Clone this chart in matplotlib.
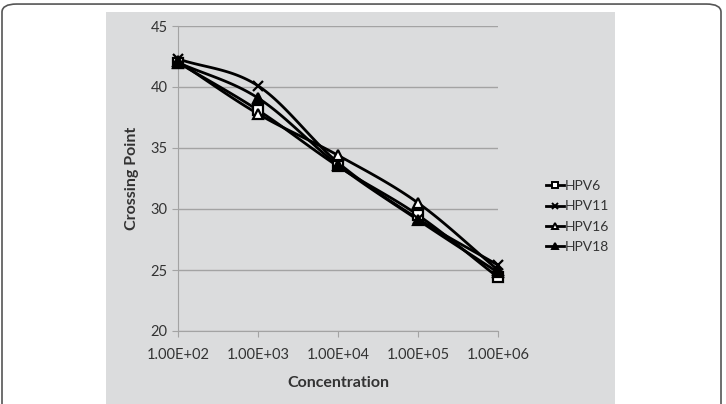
import matplotlib.pyplot as plt
import numpy as np
from matplotlib.patches import FancyBboxPatch, Rectangle

plt.rcParams['font.family'] = ['Lato', 'DejaVu Sans']

labels = ["1.00E+02", "1.00E+03", "1.00E+04", "1.00E+05", "1.00E+06"]
hpv6 = [42.0, 38.1, 33.5, 29.5, 24.4]
hpv11 = [42.3, 40.1, 33.8, 29.2, 25.4]
hpv16 = [42.1, 37.8, 34.4, 30.5, 25.0]
hpv18 = [42.0, 39.1, 33.6, 29.1, 24.8]

bg = "#dbdcdd"


def smooth(y, n=30):
    # catmull-rom style smoothing like excel's "smoothed line"
    x = np.arange(len(y), dtype=float)
    y = np.asarray(y, dtype=float)
    px = np.concatenate([[2 * x[0] - x[1]], x, [2 * x[-1] - x[-2]]])
    py = np.concatenate([[2 * y[0] - y[1]], y, [2 * y[-1] - y[-2]]])
    xs, ys = [], []
    for i in range(1, len(px) - 2):
        t = np.linspace(0, 1, n)
        for p, out in ((px, xs), (py, ys)):
            p0, p1, p2, p3 = p[i - 1], p[i], p[i + 1], p[i + 2]
            out.extend(0.5 * ((2 * p1) + (-p0 + p2) * t
                              + (2 * p0 - 5 * p1 + 4 * p2 - p3) * t ** 2
                              + (-p0 + 3 * p1 - 3 * p2 + p3) * t ** 3))
    return xs, ys


fig = plt.figure(figsize=(7.26, 4.04), dpi=100)
fig.patches.append(FancyBboxPatch((2 / 726, -0.05), 719 / 726, 1.04,
                                  boxstyle="round,pad=0,rounding_size=0.02",
                                  transform=fig.transFigure, fc="white",
                                  ec="#555555", lw=1.2, zorder=-2))
fig.patches.append(Rectangle((106 / 726, 0), (615 - 106) / 726, (404 - 12) / 404,
                             transform=fig.transFigure, fc=bg, ec="none", zorder=-1))

ax = fig.add_axes([178 / 726, 73 / 404, 320 / 726, 305 / 404])
ax.set_facecolor(bg)
ax.patch.set_alpha(0)

series = [("HPV6", hpv6, dict(marker="s", mfc="white")),
          ("HPV11", hpv11, dict(marker="x", mfc="black")),
          ("HPV16", hpv16, dict(marker="^", mfc="white")),
          ("HPV18", hpv18, dict(marker="^", mfc="black"))]

x = np.arange(len(labels))
for name, vals, style in series:
    sx, sy = smooth(vals)
    ax.plot(sx, sy, color="black", lw=2, zorder=3, clip_on=False)
    ax.plot(x, vals, ls="none", color="black", ms=6.5, mew=1.6, zorder=4, clip_on=False, **style)
    ax.plot([], [], color="black", lw=2, ms=5, mew=1.4, label=name, **style)

ax.set_xlim(0, 4)
ax.set_ylim(20, 45)
ax.set_yticks([20, 25, 30, 35, 40, 45])
ax.set_xticks(x)
ax.set_xticklabels(labels)
ax.yaxis.grid(True, color="#a3a3a3", lw=1)
ax.set_axisbelow(True)
for s in ["top", "right"]:
    ax.spines[s].set_visible(False)
for s in ["left", "bottom"]:
    ax.spines[s].set_color("#a3a3a3")
ax.tick_params(axis="both", colors="#a3a3a3", labelcolor="#333333", labelsize=10.5, length=4)
ax.tick_params(axis="x", pad=8)
ax.set_xlabel("Concentration", fontsize=11.5, fontweight="bold", color="#333333", labelpad=10)
ax.set_ylabel("Crossing Point", fontsize=11.5, fontweight="bold", color="#333333", labelpad=8)

leg = ax.legend(loc="center left", bbox_to_anchor=(1.11, 0.375), frameon=False,
                fontsize=10, handlelength=1.3, handletextpad=0.1, labelspacing=0.6)
for t in leg.get_texts():
    t.set_color("#333333")

fig.savefig("out.png", dpi=100)
